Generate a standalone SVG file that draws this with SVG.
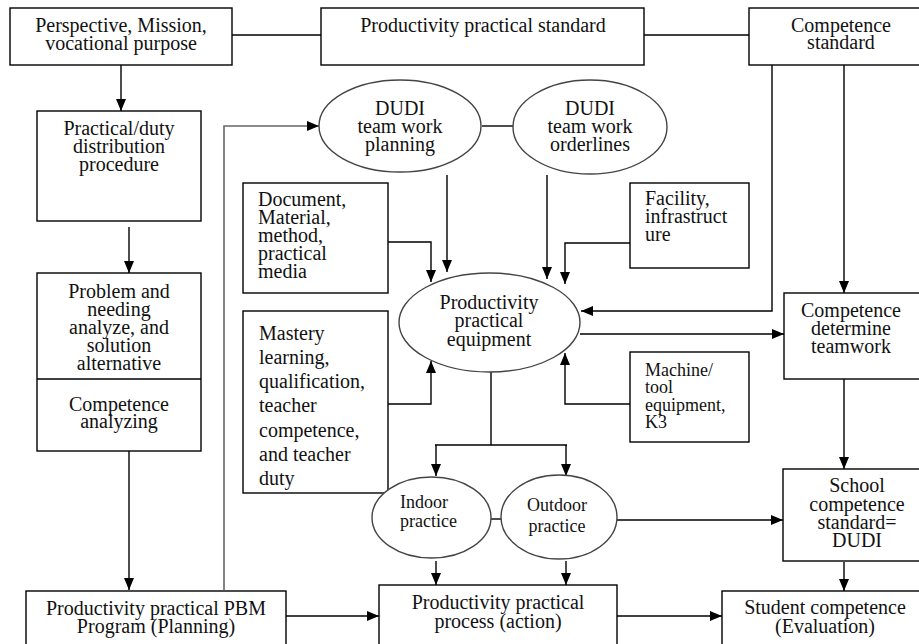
<svg xmlns="http://www.w3.org/2000/svg" width="919" height="644" viewBox="0 0 919 644" font-family="'Liberation Serif', 'Times New Roman', Times, serif">
<style>
.box{fill:#fff;stroke:#000;stroke-width:1.4}
.ell{fill:#fff;stroke:#444;stroke-width:1.4}
.c{fill:none;stroke:#000;stroke-width:1.4}
.g{fill:none;stroke:#666;stroke-width:1.6}
text{font-family:'Liberation Serif','Times New Roman',Times,serif;font-size:20px;fill:#111}
.m{text-anchor:middle}
.s{font-size:18px}
</style>
<defs>
<marker id="ah" markerUnits="userSpaceOnUse" markerWidth="12" markerHeight="12" viewBox="0 0 12 12" refX="12" refY="6" orient="auto">
<path d="M0,1 L12,6 L0,11 Z" fill="#000"/>
</marker>
</defs>
<g id="connectors">
<line class="c" x1="232" y1="35" x2="321" y2="35"/>
<line class="c" x1="644" y1="35" x2="749" y2="35"/>
<line class="c" x1="121" y1="65" x2="121" y2="111" marker-end="url(#ah)"/>
<line class="c" x1="129" y1="227" x2="129" y2="273" marker-end="url(#ah)"/>
<line class="c" x1="129" y1="451" x2="129" y2="590" marker-end="url(#ah)"/>
<polyline class="g" points="224,590 224,126 319,126" marker-end="url(#ah)"/>
<line class="c" x1="482" y1="126" x2="513" y2="126"/>
<line class="c" x1="447" y1="175" x2="447" y2="272" marker-end="url(#ah)"/>
<line class="c" x1="547" y1="175" x2="547" y2="279" marker-end="url(#ah)"/>
<polyline class="c" points="630,243 565,243 565,284" marker-end="url(#ah)"/>
<polyline class="c" points="388,242 431,242 431,282" marker-end="url(#ah)"/>
<polyline class="c" points="772,65 772,311 581,311" marker-end="url(#ah)"/>
<line class="c" x1="844" y1="65" x2="844" y2="293" marker-end="url(#ah)"/>
<line class="c" x1="580" y1="334" x2="784" y2="334" marker-end="url(#ah)"/>
<polyline class="c" points="630,404 565,404 565,353" marker-end="url(#ah)"/>
<polyline class="c" points="388,404 431,404 431,361" marker-end="url(#ah)"/>
<polyline class="c" points="491,372 491,445"/>
<line class="c" x1="435" y1="445" x2="567" y2="445"/>
<line class="c" x1="436" y1="445" x2="436" y2="476" marker-end="url(#ah)"/>
<line class="c" x1="566" y1="445" x2="566" y2="476" marker-end="url(#ah)"/>
<line class="c" x1="491" y1="519" x2="501" y2="519"/>
<line class="c" x1="617" y1="520" x2="783" y2="520" marker-end="url(#ah)"/>
<line class="c" x1="844" y1="379" x2="844" y2="469" marker-end="url(#ah)"/>
<line class="c" x1="844" y1="562" x2="844" y2="591" marker-end="url(#ah)"/>
<line class="c" x1="436" y1="561" x2="436" y2="585" marker-end="url(#ah)"/>
<line class="c" x1="566" y1="561" x2="566" y2="585" marker-end="url(#ah)"/>
<line class="c" x1="286" y1="616" x2="379" y2="616" marker-end="url(#ah)"/>
<line class="c" x1="617" y1="616" x2="722" y2="616" marker-end="url(#ah)"/>
</g>
<g id="perspective">
<rect class="box" x="10" y="8" width="222" height="57"/>
<text class="m" x="121" y="32">Perspective, Mission,<tspan x="121" dy="18">vocational purpose</tspan></text>
</g>
<g id="prod-standard">
<rect class="box" x="321" y="8" width="323" height="57"/>
<text class="m" x="483" y="32">Productivity practical standard</text>
</g>
<g id="competence-standard">
<rect class="box" x="749" y="8" width="175" height="57"/>
<text class="m" x="841" y="32">Competence<tspan x="841" dy="17">standard</tspan></text>
</g>
<g id="practical-duty">
<rect class="box" x="37" y="111" width="164" height="110"/>
<text class="m" x="119" y="135">Practical/duty<tspan x="119" dy="18">distribution</tspan><tspan x="119" dy="18">procedure</tspan></text>
</g>
<g id="problem">
<rect class="box" x="37" y="273" width="164" height="178"/>
<line class="c" x1="37" y1="379" x2="201" y2="379"/>
<text class="m" x="119" y="298">Problem and<tspan x="119" dy="18">needing</tspan><tspan x="119" dy="18">analyze, and</tspan><tspan x="119" dy="18">solution</tspan><tspan x="119" dy="18">alternative</tspan></text>
<text class="m" x="119" y="411">Competence<tspan x="119" dy="17">analyzing</tspan></text>
</g>
<g id="dudi-planning">
<ellipse class="ell" cx="400" cy="126" rx="81" ry="46"/>
<text class="m" x="400" y="115">DUDI<tspan x="400" dy="18">team work</tspan><tspan x="400" dy="18">planning</tspan></text>
</g>
<g id="dudi-orderlines">
<ellipse class="ell" cx="590" cy="127" rx="77" ry="47"/>
<text class="m" x="590" y="115">DUDI<tspan x="590" dy="18">team work</tspan><tspan x="590" dy="18">orderlines</tspan></text>
</g>
<g id="document">
<rect class="box" x="243" y="183" width="145" height="110"/>
<text x="258" y="206">Document,<tspan x="258" dy="18">Material,</tspan><tspan x="258" dy="18">method,</tspan><tspan x="258" dy="18">practical</tspan><tspan x="258" dy="18">media</tspan></text>
</g>
<g id="facility">
<rect class="box" x="630" y="183" width="119" height="85"/>
<text x="645" y="205">Facility,<tspan x="645" dy="18">infrastruct</tspan><tspan x="645" dy="18">ure</tspan></text>
</g>
<g id="equipment">
<ellipse class="ell" cx="489.5" cy="322.5" rx="90.5" ry="49.5"/>
<text class="m" x="489" y="309">Productivity<tspan x="489" dy="18">practical</tspan><tspan x="489" dy="19">equipment</tspan></text>
</g>
<g id="competence-determine">
<rect class="box" x="784" y="293" width="140" height="86"/>
<text class="m" x="851" y="317">Competence<tspan x="851" dy="18">determine</tspan><tspan x="851" dy="18">teamwork</tspan></text>
</g>
<g id="mastery">
<rect class="box" x="243" y="311" width="145" height="182"/>
<text x="259" y="340">Mastery<tspan x="259" dy="24">learning,</tspan><tspan x="259" dy="24">qualification,</tspan><tspan x="259" dy="24">teacher</tspan><tspan x="259" dy="25">competence,</tspan><tspan x="259" dy="24">and teacher</tspan><tspan x="259" dy="24">duty</tspan></text>
</g>
<g id="machine">
<rect class="box" x="630" y="352" width="119" height="90"/>
<text class="s" x="645" y="376">Machine/<tspan x="645" dy="17">tool</tspan><tspan x="645" dy="18">equipment,</tspan><tspan x="645" dy="17">K3</tspan></text>
</g>
<g id="indoor">
<ellipse class="ell" cx="431.5" cy="517.5" rx="59.5" ry="40.5"/>
<text class="s" x="400" y="508">Indoor<tspan x="400" dy="19">practice</tspan></text>
</g>
<g id="outdoor">
<ellipse class="ell" cx="559" cy="517" rx="58" ry="42"/>
<text class="s m" x="557" y="511">Outdoor<tspan x="557" dy="21">practice</tspan></text>
</g>
<g id="school">
<rect class="box" x="783" y="469" width="141" height="92"/>
<text class="m" x="857" y="492">School<tspan x="857" dy="19">competence</tspan><tspan x="857" dy="18">standard=</tspan><tspan x="857" dy="18">DUDI</tspan></text>
</g>
<g id="pbm">
<rect class="box" x="26" y="591" width="260" height="60"/>
<text class="m" x="156" y="615">Productivity practical PBM<tspan x="156" dy="18">Program (Planning)</tspan></text>
</g>
<g id="process">
<rect class="box" x="379" y="585" width="238" height="66"/>
<text class="m" x="498" y="609">Productivity practical<tspan x="498" dy="19">process (action)</tspan></text>
</g>
<g id="student">
<rect class="box" x="722" y="591" width="202" height="60"/>
<text class="m" x="825" y="614">Student competence<tspan x="825" dy="19">(Evaluation)</tspan></text>
</g>
</svg>
